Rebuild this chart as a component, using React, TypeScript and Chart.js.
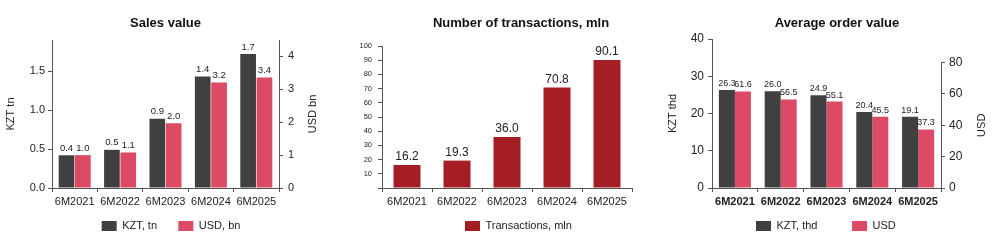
import React, { useEffect, useRef } from 'react';
import { Chart, registerables } from 'chart.js';

Chart.register(...registerables);

// ---------- data ----------
const categories = ['6M2021', '6M2022', '6M2023', '6M2024', '6M2025'];

const salesKzt = [0.42, 0.49, 0.89, 1.43, 1.72];
const salesUsd = [1.0, 1.08, 1.97, 3.21, 3.36];

const transactions = [16.2, 19.3, 36.0, 70.8, 90.1];

const aovKzt = [26.3, 26.0, 24.9, 20.4, 19.1];
const aovUsd = [61.6, 56.5, 55.1, 45.5, 37.3];

// ---------- styles ----------
const FONT = '"Liberation Sans", Arial, sans-serif';
const DARK = '#404040';
const PINK = '#dc4a65';
const RED = '#a41e23';
const AXIS = '#555555';
const TEXT = '#222222';

Chart.defaults.font.family = FONT;
Chart.defaults.color = TEXT;

// ---------- plugins ----------
const panelTitle = {
  id: 'panelTitle',
  afterDraw(chart: any, _a: any, opts: any) {
    if (!opts || !opts.text) return;
    const ctx = chart.ctx;
    ctx.save();
    ctx.font = `bold 13px ${FONT}`;
    ctx.fillStyle = '#111111';
    ctx.textAlign = 'center';
    ctx.textBaseline = 'middle';
    ctx.fillText(opts.text, opts.x, opts.y);
    ctx.restore();
  },
};

const valueLabels = {
  id: 'valueLabels',
  afterDatasetsDraw(chart: any, _a: any, opts: any) {
    const ctx = chart.ctx;
    ctx.save();
    ctx.font = `${opts.size}px ${FONT}`;
    ctx.fillStyle = TEXT;
    ctx.textAlign = 'center';
    ctx.textBaseline = 'middle';
    chart.data.datasets.forEach((ds: any, di: number) => {
      const meta = chart.getDatasetMeta(di);
      meta.data.forEach((bar: any, i: number) => {
        ctx.fillText(Number(ds.data[i]).toFixed(1), bar.x, bar.y - opts.offset);
      });
    });
    ctx.restore();
  },
};

const boxLegend = {
  id: 'boxLegend',
  afterDraw(chart: any, _a: any, opts: any) {
    const ctx = chart.ctx;
    ctx.save();
    ctx.font = `11px ${FONT}`;
    ctx.textAlign = 'left';
    ctx.textBaseline = 'middle';
    let x = opts.x;
    chart.data.datasets.forEach((ds: any) => {
      ctx.fillStyle = ds.backgroundColor;
      ctx.fillRect(x, opts.y - 5, 15, 10);
      ctx.fillStyle = TEXT;
      ctx.fillText(ds.label, x + 20.5, opts.y);
      x += 20.5 + ctx.measureText(ds.label).width + (opts.gap || 0);
    });
    ctx.restore();
  },
};

const sideTitle = {
  id: 'sideTitle',
  afterDraw(chart: any, _a: any, opts: any) {
    if (!opts || !opts.text) return;
    const ctx = chart.ctx;
    const scale = chart.scales[opts.axis];
    const area = chart.chartArea;
    const yTop = opts.lineTop != null ? scale.getPixelForValue(opts.lineTop) : area.top;
    const yBot = scale.getPixelForValue(0);
    ctx.save();
    if (opts.lineTop != null) {
      const lx = Math.round(scale.left) + 0.5;
      ctx.strokeStyle = AXIS;
      ctx.lineWidth = 1;
      ctx.beginPath();
      ctx.moveTo(lx, yTop);
      ctx.lineTo(lx, yBot);
      ctx.stroke();
    }
    ctx.font = `${opts.size || 11}px ${FONT}`;
    ctx.fillStyle = TEXT;
    ctx.textAlign = 'center';
    ctx.textBaseline = 'middle';
    ctx.translate(area.right + opts.dx, (yTop + yBot) / 2);
    ctx.rotate(-Math.PI / 2);
    ctx.fillText(opts.text, 0, 0);
    ctx.restore();
  },
};

// ---------- helpers ----------
const xAxis = (bold: boolean) => ({
  type: 'category',
  offset: true,
  afterFit: (s: any) => {
    s.height = 30;
  },
  border: { display: true, color: AXIS },
  grid: { display: true, drawOnChartArea: false, drawTicks: true, tickLength: 4, color: AXIS, offset: true },
  ticks: { font: { size: 11, weight: bold ? 'bold' : 'normal' }, padding: 3, color: TEXT, maxRotation: 0, autoSkip: false },
});

const yAxis = (o: any) => ({
  type: 'linear',
  position: o.position,
  min: 0,
  max: o.max,
  afterFit: (s: any) => {
    s.width = o.width;
  },
  border: { display: o.border !== false, color: AXIS },
  grid: { display: true, drawOnChartArea: false, drawTicks: true, tickLength: 4, color: AXIS },
  ticks: {
    stepSize: o.step,
    includeBounds: false,
    font: { size: o.size },
    padding: o.padding,
    color: TEXT,
    callback: o.callback,
  },
  title: o.title
    ? { display: true, text: o.title, font: { size: 11 }, color: TEXT, padding: { top: o.titlePad ?? 4, bottom: 0 } }
    : { display: false },
});

function salesConfig(): any {
  return {
    type: 'bar',
    data: {
      labels: categories,
      datasets: [
        { label: 'KZT, tn', data: salesKzt, backgroundColor: DARK, yAxisID: 'y', categoryPercentage: 0.72, barPercentage: 0.96 },
        { label: 'USD, bn', data: salesUsd, backgroundColor: PINK, yAxisID: 'y1', categoryPercentage: 0.72, barPercentage: 0.96 },
      ],
    },
    options: {
      responsive: false,
      animation: false,
      devicePixelRatio: 1,
      layout: { padding: { top: 40, bottom: 30, left: 0, right: 0 } },
      plugins: {
        legend: { display: false },
        tooltip: { enabled: false },
        title: { display: false },
        panelTitle: { text: 'Sales value', x: 165.5, y: 23 },
        valueLabels: { size: 9.5, offset: 7 },
        boxLegend: { x: 101.7, y: 226, gap: 21.3 },
        sideTitle: { text: 'USD bn', axis: 'y1', dx: 34 },
      },
      scales: {
        x: xAxis(false),
        y: yAxis({ position: 'left', max: 1.9, step: 0.5, width: 52, size: 11, padding: 3, title: 'KZT tn', callback: (v: number) => v.toFixed(1) }),
        y1: yAxis({ position: 'right', max: 4.5, step: 1, width: 51, size: 11, padding: 5 }),
      },
    },
    plugins: [panelTitle, valueLabels, boxLegend, sideTitle],
  };
}

function transConfig(): any {
  return {
    type: 'bar',
    data: {
      labels: categories,
      datasets: [
        { label: 'Transactions, mln', data: transactions, backgroundColor: RED, categoryPercentage: 0.54, barPercentage: 1 },
      ],
    },
    options: {
      responsive: false,
      animation: false,
      devicePixelRatio: 1,
      layout: { padding: { top: 46, bottom: 30, left: 0, right: 28 } },
      plugins: {
        legend: { display: false },
        tooltip: { enabled: false },
        title: { display: false },
        panelTitle: { text: 'Number of transactions, mln', x: 191, y: 23 },
        valueLabels: { size: 12, offset: 8 },
        boxLegend: { x: 135, y: 226, gap: 0 },
      },
      scales: {
        x: xAxis(false),
        y: yAxis({ position: 'left', max: 100, step: 10, width: 52, size: 7.5, padding: 6, callback: (v: number) => (v === 0 ? '' : String(v)) }),
      },
    },
    plugins: [panelTitle, valueLabels, boxLegend],
  };
}

function aovConfig(): any {
  return {
    type: 'bar',
    data: {
      labels: categories,
      datasets: [
        { label: 'KZT, thd', data: aovKzt, backgroundColor: DARK, yAxisID: 'y', categoryPercentage: 0.7, barPercentage: 1 },
        { label: 'USD', data: aovUsd, backgroundColor: PINK, yAxisID: 'y1', categoryPercentage: 0.7, barPercentage: 1 },
      ],
    },
    options: {
      responsive: false,
      animation: false,
      devicePixelRatio: 1,
      layout: { padding: { top: 39, bottom: 30, left: 0, right: 0 } },
      plugins: {
        legend: { display: false },
        tooltip: { enabled: false },
        title: { display: false },
        panelTitle: { text: 'Average order value', x: 177, y: 23 },
        valueLabels: { size: 9, offset: 6.5 },
        boxLegend: { x: 96, y: 226, gap: 34.6 },
        sideTitle: { text: 'USD', axis: 'y1', dx: 40.7, lineTop: 80 },
      },
      scales: {
        x: xAxis(true),
        y: yAxis({ position: 'left', max: 40, step: 10, width: 52, size: 12, padding: 4, title: 'KZT thd', titlePad: 6 }),
        y1: yAxis({ position: 'right', max: 95, step: 20, width: 59, size: 12, padding: 4, border: false }),
      },
    },
    plugins: [panelTitle, valueLabels, boxLegend, sideTitle],
  };
}

function ChartPanel({ left, width, build }: { left: number; width: number; build: () => any }) {
  const ref = useRef<HTMLCanvasElement | null>(null);
  useEffect(() => {
    if (!ref.current) return;
    const chart = new Chart(ref.current, build());
    return () => chart.destroy();
  }, [build]);
  return (
    <canvas
      ref={ref}
      width={width}
      height={248}
      style={{ position: 'absolute', left, top: 0, width, height: 248 }}
    />
  );
}

export default function App() {
  return (
    <div style={{ position: 'absolute', left: 0, top: 0, width: 1000, height: 248, background: '#ffffff', overflow: 'hidden' }}>
      <ChartPanel left={0} width={330} build={salesConfig} />
      <ChartPanel left={330} width={330} build={transConfig} />
      <ChartPanel left={660} width={340} build={aovConfig} />
    </div>
  );
}
